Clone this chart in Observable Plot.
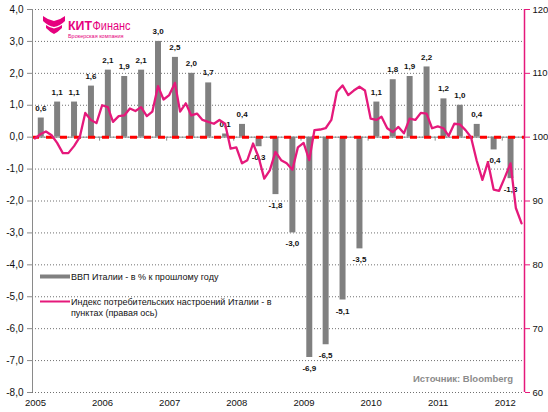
<!DOCTYPE html>
<html><head><meta charset="utf-8">
<script src="https://cdn.jsdelivr.net/npm/d3@7"></script>
<script src="https://cdn.jsdelivr.net/npm/@observablehq/plot@0.6"></script>
<style>body{margin:0;background:#fff} svg{display:block}</style>
</head><body><div id="chart"></div>
<script>
// ---- data ----
const gdpQuarters = ["2005Q1","2005Q2","2005Q3","2005Q4","2006Q1","2006Q2","2006Q3","2006Q4",
  "2007Q1","2007Q2","2007Q3","2007Q4","2008Q1","2008Q2","2008Q3","2008Q4",
  "2009Q1","2009Q2","2009Q3","2009Q4","2010Q1","2010Q2","2010Q3","2010Q4",
  "2011Q1","2011Q2","2011Q3","2011Q4","2012Q1"];
const gdpValues = [0.6,1.1,1.1,1.6,2.1,1.9,2.1,3.0,2.5,2.0,1.7,0.1,0.4,-0.3,-1.8,-3.0,
  -6.9,-6.5,-5.1,-3.5,1.1,1.8,1.9,2.2,1.2,1.0,0.4,-0.4,-1.3];
const confStartYear = 2005; // monthly, from January 2005
const confValues = [99.8,100.5,100.9,100.3,99.1,97.5,97.5,98.6,100.0,103.8,102.7,102.2,
  105.0,104.7,102.4,103.3,103.4,104.5,104.1,104.7,103.3,104.0,108.0,105.9,
  106.6,108.5,104.0,105.3,103.4,103.7,102.7,102.4,102.1,102.7,102.1,98.2,
  98.4,95.9,96.4,99.0,96.9,93.5,94.8,97.7,96.4,95.9,94.9,98.4,
  99.1,96.4,101.1,101.2,101.4,102.7,107.1,108.1,106.6,107.3,107.9,107.3,
  102.9,102.7,103.2,101.4,100.8,101.6,100.6,102.9,102.7,103.8,103.7,101.4,
  101.7,101.4,100.2,102.1,102.0,101.1,100.0,96.3,93.3,96.1,91.8,91.6,
  93.7,95.9,88.9,86.5];
const leftTicks = [4,3,2,1,0,-1,-2,-3,-4,-5,-6,-7,-8];
const rightTicks = [120,110,100,90,80,70,60];
const yearTicks = [2005,2006,2007,2008,2009,2010,2011,2012];
const legendLabels = ["ВВП Италии - в % к прошлому году",
  "Индекс потребительских настроений Италии - в", "пунктах (правая ось)"];
const sourceText = "Источник: Bloomberg";

// ---- derived tables ----
const PINK = "#e5197b";
const toLeft = v => (v - 100) / 5;   // right axis (60..120) onto left axis (-8..4)
const gdp = gdpQuarters.map((q, i) => {
  const y = +q.slice(0, 4), k = +q.slice(5) - 1;
  return {date: new Date(Date.UTC(y, k * 3 + 1, 15)), value: gdpValues[i]};
});
const conf = confValues.map((v, i) => ({date: new Date(Date.UTC(confStartYear, i, 15)), value: v}));
const years = yearTicks.map(y => new Date(Date.UTC(y, 0, 1)));
const fmt = d => d.toFixed(1).replace(".", ",");
const font = "Liberation Sans, Arial, sans-serif";

const plot = Plot.plot({
  width: 548, height: 412,
  marginLeft: 32, marginRight: 24, marginTop: 9, marginBottom: 20,
  style: {fontFamily: font, background: "#fff"},
  x: {type: "utc", domain: [new Date(Date.UTC(2005,0,1)), new Date(Date.UTC(2012,4,1))]},
  y: {domain: [-8, 4]},
  marks: [
    Plot.ruleY(leftTicks, {stroke: "#707070", strokeDasharray: "1,2", strokeWidth: 1}),
    Plot.ruleY([0], {stroke: "#8a8a8a"}),
    Plot.ruleX(years.slice(1), {y1: 0, y2: 0, insetBottom: -4, stroke: "#8a8a8a"}),
    Plot.ruleX(gdp, {x: "date", y1: 0, y2: "value", stroke: "#808080", strokeWidth: 6}),
    Plot.ruleY([0], {stroke: "#ff0000", strokeWidth: 3, strokeDasharray: "7,7"}),
    Plot.text(gdp.filter(d => d.value >= 0), {x: "date", y: "value", text: d => fmt(d.value),
      dy: -10, fontSize: 8, fontWeight: "bold", fill: "#111"}),
    Plot.text(gdp.filter(d => d.value < 0), {x: "date", y: "value", text: d => fmt(d.value),
      dy: 11, fontSize: 8, fontWeight: "bold", fill: "#111"}),
    Plot.line(conf, {x: "date", y: d => toLeft(d.value), stroke: PINK, strokeWidth: 2.3}),
    Plot.ruleX([new Date(Date.UTC(2005,0,1))], {stroke: "#8a8a8a"}),
    Plot.ruleX([new Date(Date.UTC(2012,4,1))], {stroke: PINK, strokeWidth: 1.5}),
    Plot.axisY(leftTicks, {anchor: "left", label: null, tickSize: 5, tickPadding: 4, tickFormat: fmt,
      stroke: "#8a8a8a", fill: "#111", fontSize: 10}),
    Plot.axisY(rightTicks.map(toLeft), {anchor: "right", label: null, tickSize: 5, tickPadding: 3,
      tickFormat: d => String(Math.round(d * 5 + 100)), stroke: PINK, fill: "#111", fontSize: 9.5}),
    Plot.axisX(years, {anchor: "bottom", label: null, tickSize: 0, tickPadding: 7, dx: 3,
      tickFormat: d => String(d.getUTCFullYear()), fill: "#111", fontSize: 9.5})
  ]
});
document.getElementById("chart").appendChild(plot);

// ---- decorations: logo, legend, source ----
const svg = d3.select(plot);
const logo = svg.append("g").attr("text-anchor", "start").attr("font-family", font).attr("fill", "#e6007e");
logo.append("path")
  .attr("d", "M43,16 Q48,20 54,21 Q60,20 65,16 L65,21 Q60,26 54,27 Q48,26 43,21 Z");
logo.append("path")
  .attr("d", "M46,25 Q50,28 54,28.5 Q58,28 62,25 L62,28 Q58,32 54,34 Q50,32 46,28 Z");
logo.append("text").attr("x", 68).attr("y", 29.5).attr("font-size", 13).attr("font-weight", "bold")
  .attr("textLength", 24).attr("lengthAdjust", "spacingAndGlyphs").text("КИТ");
logo.append("text").attr("x", 92.5).attr("y", 29.5).attr("font-size", 13)
  .attr("textLength", 38).attr("lengthAdjust", "spacingAndGlyphs").text("Финанс");
logo.append("text").attr("x", 68).attr("y", 38).attr("font-size", 5.5).text("Брокерская компания");

const lg = svg.append("g").attr("font-family", font).attr("font-size", 9)
  .attr("fill", "#111").attr("text-anchor", "start");
lg.append("line").attr("x1", 40).attr("x2", 70).attr("y1", 276.5).attr("y2", 276.5)
  .attr("stroke", "#808080").attr("stroke-width", 4);
lg.append("text").attr("x", 71).attr("y", 280).text(legendLabels[0]);
lg.append("line").attr("x1", 40).attr("x2", 70).attr("y1", 301.5).attr("y2", 301.5)
  .attr("stroke", PINK).attr("stroke-width", 2);
lg.append("text").attr("x", 71).attr("y", 305).text(legendLabels[1]);
lg.append("text").attr("x", 71).attr("y", 316).text(legendLabels[2]);

svg.append("text").attr("x", 513).attr("y", 382).attr("text-anchor", "end")
  .attr("font-family", font).attr("font-size", 9.5).attr("font-weight", "bold")
  .attr("fill", "#8c8c8c").text(sourceText);
</script>
</body></html>
